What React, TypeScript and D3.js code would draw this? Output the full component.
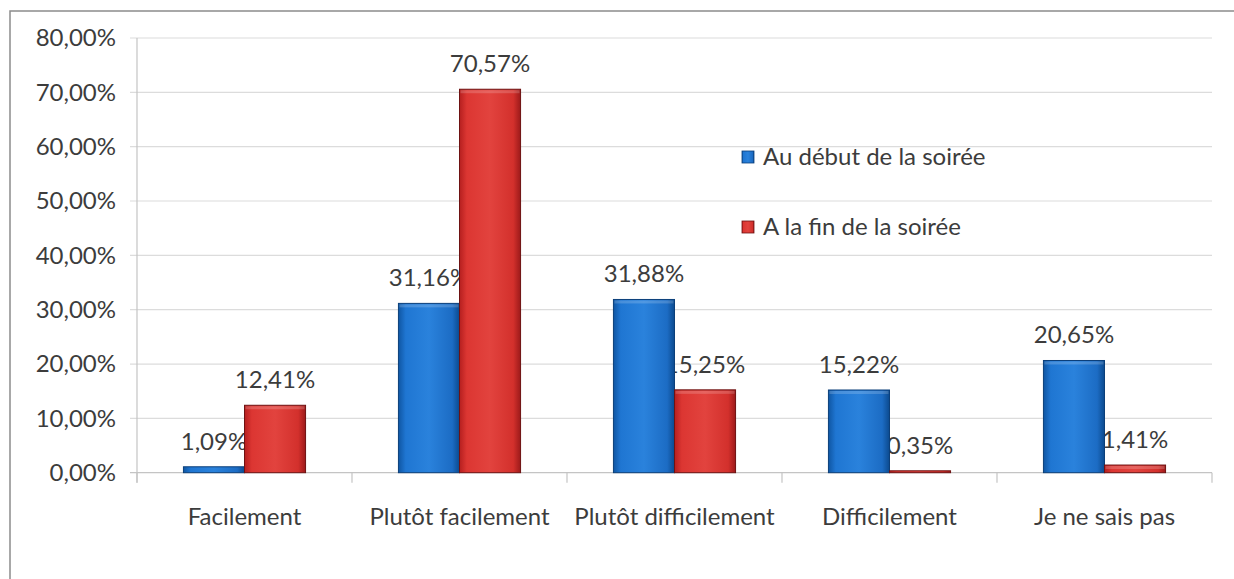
import React from "react";
import * as d3 from "d3";

const categories = ["Facilement", "Plutôt facilement", "Plutôt difficilement", "Difficilement", "Je ne sais pas"];
const seriesNames = ["Au début de la soirée", "A la fin de la soirée"];
const debutValues = [1.09, 31.16, 31.88, 15.22, 20.65];
const finValues = [12.41, 70.57, 15.25, 0.35, 1.41];
const yTicks = [0, 10, 20, 30, 40, 50, 60, 70, 80];

const W = 1234;
const H = 579;
const plot = { left: 137, right: 1212, top: 38, bottom: 472.7 };
const fmt = (v: number) => v.toFixed(2).replace(".", ",") + "%";
const FONT = "Lato, 'Open Sans', sans-serif";
const TEXT = "#3c3c3c";
const FS = 24;

export default function App() {
  const x = d3
    .scaleBand<string>()
    .domain(categories)
    .range([plot.left, plot.right])
    .paddingInner(0.432)
    .paddingOuter(0.216);
  const xs = d3.scaleBand<number>().domain([0, 1]).range([0, x.bandwidth()]);
  const y = d3.scaleLinear().domain([0, 80]).range([plot.bottom, plot.top]);
  const series = [debutValues, finValues];
  const grads = ["gBlue", "gRed"];
  const strokes = ["#0b3f7a", "#6e1212"];
  const step = x.step();
  const boundaries = d3.range(categories.length + 1).map((i) => plot.left + i * step);

  return (
    <svg width={W} height={H} style={{ position: "absolute", left: 0, top: 0, background: "#fff" }}>
      <defs>
        <linearGradient id="gBlue" x1="0" x2="1" y1="0" y2="0">
          <stop offset="0" stopColor="#0f56a3" />
          <stop offset="0.12" stopColor="#1f76d2" />
          <stop offset="0.5" stopColor="#2a82dc" />
          <stop offset="0.88" stopColor="#1c6cc4" />
          <stop offset="1" stopColor="#0c4a8e" />
        </linearGradient>
        <linearGradient id="gRed" x1="0" x2="1" y1="0" y2="0">
          <stop offset="0" stopColor="#b51f1f" />
          <stop offset="0.12" stopColor="#dc3632" />
          <stop offset="0.5" stopColor="#e2433e" />
          <stop offset="0.88" stopColor="#d3302c" />
          <stop offset="1" stopColor="#9c1a1a" />
        </linearGradient>
      </defs>
      <rect x={10} y={11} width={W + 20} height={H + 20} fill="none" stroke="#8c8c8c" strokeWidth={1.5} />
      {yTicks.map((t) => (
        <g key={t}>
          <line x1={plot.left - 7} x2={plot.right} y1={y(t)} y2={y(t)} stroke={t === 0 ? "#c4c4c4" : "#dcdcdc"} strokeWidth={1.2} />
          <text x={116} y={y(t)} dy="0.35em" textAnchor="end" fontFamily={FONT} fontSize={FS} fill={TEXT}>
            {fmt(t)}
          </text>
        </g>
      ))}
      <line x1={plot.left} x2={plot.left} y1={plot.top} y2={plot.bottom + 10} stroke="#c4c4c4" strokeWidth={1.2} />
      {boundaries.map((b, i) => (
        <line key={i} x1={b} x2={b} y1={plot.bottom} y2={plot.bottom + 10} stroke="#c4c4c4" strokeWidth={1.2} />
      ))}
      {/* data labels drawn first so bars overlap them as in the reference */}
      {series.map((vals, si) =>
        vals.map((v, ci) => (
          <text
            key={`l${si}-${ci}`}
            x={(x(categories[ci]) as number) + (xs(si) as number) + xs.bandwidth() / 2}
            y={y(v) - 17}
            textAnchor="middle"
            fontFamily={FONT}
            fontSize={FS}
            fill={TEXT}
          >
            {fmt(v)}
          </text>
        ))
      )}
      {series.map((vals, si) =>
        vals.map((v, ci) => {
          const bx = (x(categories[ci]) as number) + (xs(si) as number);
          const by = y(v);
          const bh = y(0) - y(v);
          return (
            <g key={`b${si}-${ci}`}>
              <rect x={bx} y={by} width={xs.bandwidth()} height={bh} fill={`url(#${grads[si]})`} stroke={strokes[si]} strokeWidth={1} />
              {bh > 6 && (
                <rect x={bx + 1} y={by + 1} width={xs.bandwidth() - 2} height={3} fill="#ffffff" opacity={0.18} />
              )}
            </g>
          );
        })
      )}
      {categories.map((c) => (
        <text
          key={c}
          x={(x(c) as number) + x.bandwidth() / 2}
          y={525}
          textAnchor="middle"
          fontFamily={FONT}
          fontSize={FS}
          fill={TEXT}
        >
          {c}
        </text>
      ))}
      {seriesNames.map((n, i) => (
        <g key={n}>
          <rect x={742} y={i === 0 ? 151 : 221} width={12} height={12} fill={`url(#${grads[i]})`} stroke={strokes[i]} strokeWidth={0.8} />
          <text x={763} y={i === 0 ? 165 : 235} fontFamily={FONT} fontSize={FS} fill={TEXT}>
            {n}
          </text>
        </g>
      ))}
    </svg>
  );
}
